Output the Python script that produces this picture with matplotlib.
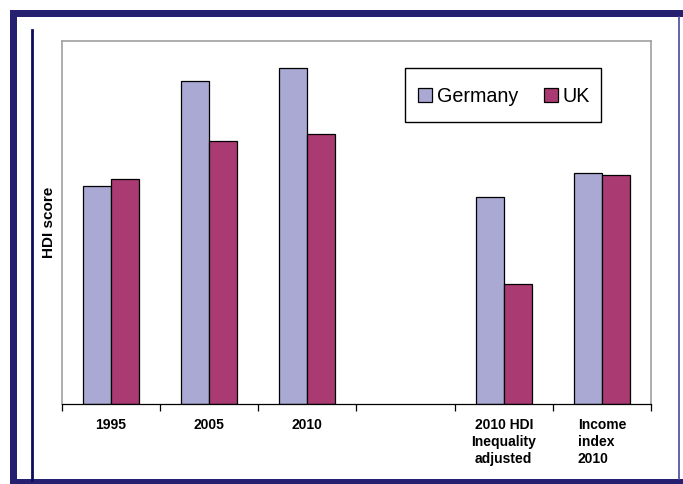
import numpy as np
import matplotlib
matplotlib.use("Agg")
import matplotlib.pyplot as plt
from matplotlib.patches import Rectangle
from matplotlib.lines import Line2D

categories = ["1995", "2005", "2010", "", "2010 HDI\nInequality\nadjusted", "Income\nindex\n2010"]
germany = [0.820, 0.878, 0.885, np.nan, 0.814, 0.827]
uk = [0.824, 0.845, 0.849, np.nan, 0.766, 0.826]
series_names = ["Germany", "UK"]
y_min, y_max = 0.7, 0.9

W, H = 683, 484
fig = plt.figure(figsize=(W / 100, H / 100), dpi=100)
fig.patch.set_facecolor("white")

def px(x0, y0, w, h):
    return (x0 / W, 1 - (y0 + h) / H, w / W, h / H)

navy = "#252070"
# outer frame
for (x0, y0, w, h) in [(10, 10, 673, 7), (10, 10, 7, 474), (10, 479, 673, 5)]:
    r = px(x0, y0, w, h)
    fig.add_artist(Rectangle((r[0], r[1]), r[2], r[3], transform=fig.transFigure,
                             facecolor=navy, edgecolor="none", zorder=0))
fig.add_artist(Line2D([679 / W, 679 / W], [1 - 17 / H, 1 - 479 / H], transform=fig.transFigure,
                      color="#4a46a0", lw=1.2))
fig.add_artist(Line2D([32 / W, 32 / W], [1 - 30 / H, 1 - 480 / H], transform=fig.transFigure,
                      color="#0c0c5c", lw=2))

AX_L, AX_T, AX_W, AX_H = 62, 41, 589, 363
ax = fig.add_axes(px(AX_L, AX_T, AX_W, AX_H))
x = np.arange(len(categories))
g = np.array(germany, dtype=float)
u = np.array(uk, dtype=float)
bw = 28 / 98
mask = ~np.isnan(g)
ax.bar(x[mask] - bw / 2, g[mask] - y_min, bw, bottom=y_min, color="#a9a9d4",
       edgecolor="black", linewidth=0.9, label=series_names[0], zorder=3)
mask = ~np.isnan(u)
ax.bar(x[mask] + bw / 2, u[mask] - y_min, bw, bottom=y_min, color="#a93a72",
       edgecolor="black", linewidth=0.9, label=series_names[1], zorder=3)

ax.set_xlim(-0.5, len(categories) - 0.5)
ax.set_ylim(y_min, y_max)
ax.set_yticks([])
ax.set_xticks(np.arange(len(categories) + 1) - 0.5)
ax.set_xticklabels([])
ax.tick_params(axis="x", which="major", direction="out", length=5, width=0.9, color="black")
for i, c in enumerate(categories):
    ax.text(i, y_min - 0.0075, c, ha="center", va="top",
            multialignment="left" if c.startswith("Income") else "center",
            fontsize=10, fontweight="bold", family="Liberation Sans", linespacing=1.3,
            transform=ax.transData)

for s in ["left", "top", "right"]:
    ax.spines[s].set_color("#a0a0a0")
    ax.spines[s].set_linewidth(1.2)
ax.spines["bottom"].set_color("black")
ax.spines["bottom"].set_linewidth(0.9)
ax.spines["bottom"].set_zorder(4)

ax.set_ylabel("HDI score", fontsize=11, fontweight="bold", family="Liberation Sans")
ax.yaxis.set_label_coords((49 - AX_L) / AX_W, 0.5)
ax.yaxis.label.set_va("center")

# legend box (pixel layout 405..601 x 68..122)
lx0, lx1, ly0, ly1 = 405, 601, 68, 122
ax.add_patch(Rectangle(((lx0 - AX_L) / AX_W, (AX_T + AX_H - ly1) / AX_H),
                       (lx1 - lx0) / AX_W, (ly1 - ly0) / AX_H, transform=ax.transAxes,
                       facecolor="white", edgecolor="black", linewidth=1.0, zorder=5))
leg = ax.legend(loc="center",
                bbox_to_anchor=(((lx0 + lx1) / 2 + 1 - AX_L) / AX_W, (AX_T + AX_H - (ly0 + ly1) / 2 - 1) / AX_H),
                borderaxespad=0, ncol=2, frameon=False,
                handlelength=0.7, handleheight=0.7, handletextpad=0.25, columnspacing=1.3,
                borderpad=0.3, prop={"family": "Liberation Sans", "size": 14.2})
leg.set_zorder(6)

fig.savefig("out.png", dpi=100)
